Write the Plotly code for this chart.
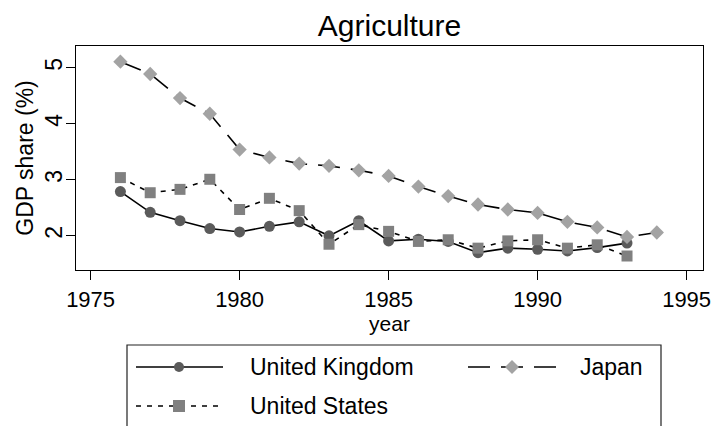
import plotly.graph_objects as go

# ---------------- data ----------------
years_uk_us = list(range(1976, 1994))
years_japan = list(range(1976, 1995))

united_kingdom = [2.79, 2.42, 2.27, 2.13, 2.07, 2.17, 2.25, 2.00, 2.27,
                  1.91, 1.94, 1.90, 1.70, 1.78, 1.76, 1.73, 1.79, 1.87]
united_states = [3.04, 2.77, 2.83, 3.01, 2.47, 2.67, 2.45, 1.85, 2.20,
                 2.08, 1.90, 1.93, 1.78, 1.91, 1.93, 1.78, 1.84, 1.64]
japan = [5.11, 4.89, 4.46, 4.18, 3.54, 3.40, 3.29, 3.25, 3.17, 3.07,
         2.88, 2.71, 2.56, 2.47, 2.41, 2.25, 2.15, 1.98, 2.06]

x_ticks = [1975, 1980, 1985, 1990, 1995]
y_ticks = [2, 3, 4, 5]

# ---------------- layout constants ----------------
W, H = 718, 426
ML, MR, MT, MB = 76, 15, 46, 156
PW, PH = W - ML - MR, H - MT - MB
FONT = "Liberation Sans, Arial, Helvetica, sans-serif"


def px(x):
    return (x - ML) / PW


def py(y):
    return (H - MB - y) / PH


series = [
    dict(name="United Kingdom", x=years_uk_us, y=united_kingdom, symbol="circle",
         color="#5b5b5b", dash="solid", size=11),
    dict(name="Japan", x=years_japan, y=japan, symbol="diamond",
         color="#a3a3a3", dash="22px,11px", size=11),
    dict(name="United States", x=years_uk_us, y=united_states, symbol="square",
         color="#808080", dash="5px,6px", size=11),
]

fig = go.Figure()
for s in series:
    fig.add_trace(go.Scatter(
        x=s["x"], y=s["y"], name=s["name"], mode="lines+markers",
        line=dict(color="black", width=1.6, dash=s["dash"]),
        marker=dict(symbol=s["symbol"], size=s["size"], color=s["color"],
                    line=dict(width=0)),
        showlegend=False,
    ))

# ---------------- manual legend (Stata-like wide keys) ----------------
shapes = []
annotations = []
shapes.append(dict(type="rect", xref="paper", yref="paper",
                   x0=px(127), x1=px(661), y0=py(450), y1=py(345),
                   line=dict(color="#222222", width=1.2), fillcolor="rgba(0,0,0,0)"))

legend_slots = [  # (line start, line end, marker center, text x, row y)
    (136, 223, 179, 248, 367),
    (468, 556, 512, 578, 367),
    (136, 223, 179, 248, 406),
]
for s, (x0, x1, xm, xt, yr) in zip(series, legend_slots):
    shapes.append(dict(type="line", xref="paper", yref="paper",
                       x0=px(x0), x1=px(x1), y0=py(yr), y1=py(yr),
                       line=dict(color="black", width=1.6, dash=s["dash"])))
    if s["symbol"] == "circle":
        r = 5
        shapes.append(dict(type="circle", xref="paper", yref="paper",
                           x0=px(xm - r), x1=px(xm + r), y0=py(yr + r), y1=py(yr - r),
                           fillcolor=s["color"], line=dict(width=0)))
    elif s["symbol"] == "square":
        r = 6
        shapes.append(dict(type="rect", xref="paper", yref="paper",
                           x0=px(xm - r), x1=px(xm + r), y0=py(yr + r), y1=py(yr - r),
                           fillcolor=s["color"], line=dict(width=0)))
    else:
        r = 7
        path = "M {a},{b} L {c},{d} L {e},{f} L {g},{h} Z".format(
            a=px(xm - r), b=py(yr), c=px(xm), d=py(yr - r),
            e=px(xm + r), f=py(yr), g=px(xm), h=py(yr + r))
        shapes.append(dict(type="path", xref="paper", yref="paper", path=path,
                           fillcolor=s["color"], line=dict(width=0)))
    annotations.append(dict(text=s["name"], xref="paper", yref="paper",
                            x=px(xt), y=py(yr), xanchor="left", yanchor="middle",
                            showarrow=False, font=dict(size=23, color="black", family=FONT)))

fig.update_layout(
    width=W, height=H,
    margin=dict(l=ML, r=MR, t=MT, b=MB, autoexpand=False),
    paper_bgcolor="white", plot_bgcolor="white",
    font=dict(family=FONT, color="black", size=22),
    title=dict(text="Agriculture", x=(389.5) / W, xanchor="center",
               y=1 - 25 / H, yanchor="middle", yref="container",
               font=dict(size=30, color="black", family=FONT)),
    xaxis=dict(range=[1974.51, 1995.55], tickvals=x_ticks, ticks="outside",
               ticklen=9, tickwidth=1.2, tickcolor="black", automargin=False,
               showline=True, mirror=True, linecolor="black", linewidth=1.3,
               showgrid=False, zeroline=False,
               tickfont=dict(size=22),
               title=dict(text="year", standoff=0, font=dict(size=21))),
    yaxis=dict(range=[1.39, 5.39], tickvals=y_ticks, ticks="outside",
               ticklen=9, tickwidth=1.2, tickcolor="black", tickangle=-90,
               automargin=False, ticklabelstandoff=-5,
               showline=True, mirror=True, linecolor="black", linewidth=1.3,
               showgrid=False, zeroline=False,
               tickfont=dict(size=23),
               title=dict(text="GDP share (%)", standoff=0, font=dict(size=23))),
    shapes=shapes,
    annotations=annotations,
    showlegend=False,
)

fig.write_html("out.html", config={"displayModeBar": False},
               post_script="document.body.style.margin='0px';"
                           "document.body.style.overflow='hidden';")
